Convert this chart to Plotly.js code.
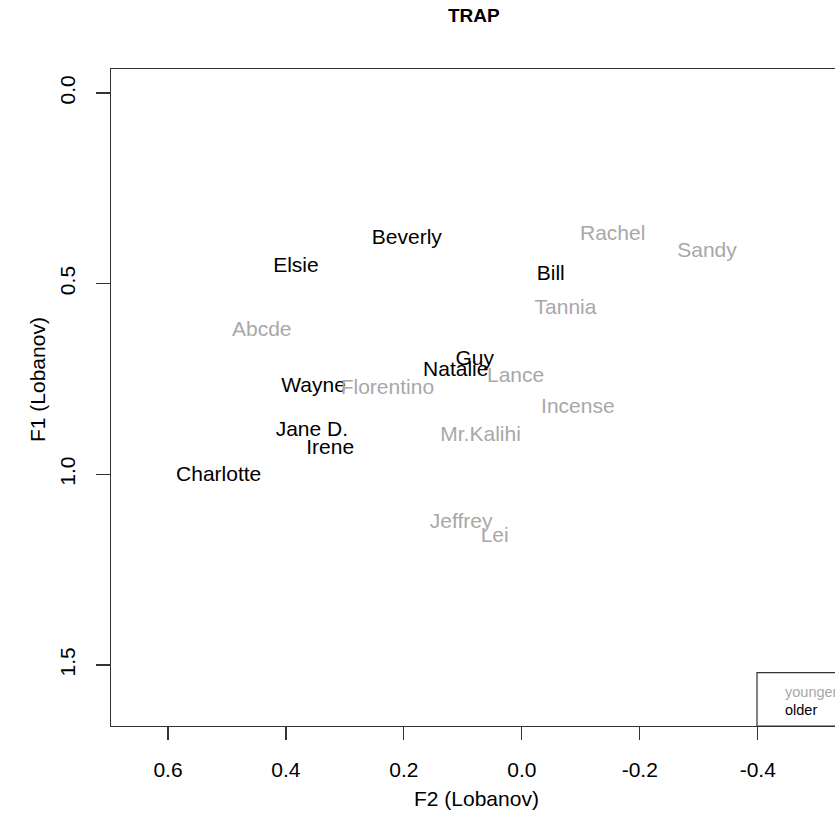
<!DOCTYPE html>
<html>
<head>
<meta charset="utf-8">
<script src="https://cdn.plot.ly/plotly-3.0.1.min.js"></script>
<style>body{margin:0;background:#fff}#chart{width:835px;height:831px}</style>
</head>
<body>
<div id="chart"></div>
<script>
// older speakers (black)
const olderNames = ["Beverly","Elsie","Guy","Natalie","Wayne","Jane D.","Irene","Charlotte","Bill"];
const olderF2 = [0.195, 0.383, 0.080, 0.112, 0.353, 0.356, 0.325, 0.514, -0.049];
const olderF1 = [0.382, 0.456, 0.700, 0.729, 0.770, 0.885, 0.932, 1.003, 0.476];
// younger speakers (grey)
const youngerNames = ["Abcde","Florentino","Mr.Kalihi","Rachel","Sandy","Tannia","Lance","Incense","Jeffrey","Lei"];
const youngerF2 = [0.441, 0.228, 0.070, -0.154, -0.314, -0.074, 0.0105, -0.095, 0.103, 0.046];
const youngerF1 = [0.623, 0.776, 0.900, 0.371, 0.415, 0.567, 0.743, 0.826, 1.126, 1.163];
const xTicks = [0.6, 0.4, 0.2, 0.0, -0.2, -0.4];
const xTickText = ["0.6","0.4","0.2","0.0","-0.2","-0.4"];
const yTicks = [0.0, 0.5, 1.0, 1.5];
const yTickText = ["0.0","0.5","1.0","1.5"];

const FONT = "Liberation Sans, Arial, sans-serif";
const GREY = "#a8a8a8";
const W = 835, H = 831, L = 111, T = 69, B = 105, R = 0;
const pw = W - L - R, ph = H - T - B;
const px = v => (v - L) / pw;          // pixel x -> paper
const py = v => (H - B - v) / ph;      // pixel y -> paper

const traces = [
  {x: olderF2, y: olderF1, text: olderNames, mode: "text", type: "scatter",
   textposition: "middle center", textfont: {family: FONT, size: 21, color: "#000"},
   hoverinfo: "text", showlegend: false, cliponaxis: false},
  {x: youngerF2, y: youngerF1, text: youngerNames, mode: "text", type: "scatter",
   textposition: "middle center", textfont: {family: FONT, size: 21, color: GREY},
   hoverinfo: "text", showlegend: false, cliponaxis: false}
];

const layout = {
  width: W, height: H,
  margin: {l: L, r: R, t: T, b: B, pad: 0},
  paper_bgcolor: "#fff", plot_bgcolor: "#fff",
  showlegend: false,
  font: {family: FONT, color: "#000"},
  xaxis: {range: [0.6966, -0.531], tickvals: xTicks, ticktext: xTickText,
    ticks: "outside", ticklen: 13, tickwidth: 1.2, tickcolor: "#333",
    showline: true, mirror: true, linecolor: "#333", linewidth: 1.2,
    showgrid: false, zeroline: false, tickfont: {family: FONT, size: 21, color: "#000"},
    ticklabelstandoff: 12},
  yaxis: {range: [1.66, -0.063], tickvals: yTicks, ticktext: yTickText,
    ticks: "outside", ticklen: 14, tickwidth: 1.2, tickcolor: "#333",
    showline: true, mirror: false, linecolor: "#333", linewidth: 1.2,
    showgrid: false, zeroline: false, tickangle: -90,
    tickfont: {family: FONT, size: 21, color: "#000"}, ticklabelstandoff: 12},
  shapes: [
    {type: "rect", xref: "paper", yref: "paper", x0: px(757), x1: 1.2, y0: 0, y1: py(672.7),
     line: {color: "#333", width: 1.2}, fillcolor: "rgba(0,0,0,0)"}
  ],
  annotations: [
    {text: "<b>TRAP</b>", xref: "paper", yref: "paper", x: px(474), y: py(16),
     showarrow: false, xanchor: "center", yanchor: "middle", font: {family: FONT, size: 19, color: "#000"}},
    {text: "F2 (Lobanov)", xref: "paper", yref: "paper", x: px(476), y: py(798),
     showarrow: false, xanchor: "center", yanchor: "middle", font: {family: FONT, size: 21, color: "#000"}},
    {text: "F1 (Lobanov)", xref: "paper", yref: "paper", x: px(37), y: py(380), textangle: -90,
     showarrow: false, xanchor: "center", yanchor: "middle", font: {family: FONT, size: 21, color: "#000"}},
    {text: "younger", xref: "paper", yref: "paper", x: px(783), y: py(692),
     showarrow: false, xanchor: "left", yanchor: "middle", font: {family: FONT, size: 14.5, color: GREY}},
    {text: "older", xref: "paper", yref: "paper", x: px(783), y: py(710),
     showarrow: false, xanchor: "left", yanchor: "middle", font: {family: FONT, size: 14.5, color: "#000"}}
  ]
};

Plotly.newPlot("chart", traces, layout, {displayModeBar: false, staticPlot: true});
</script>
</body>
</html>
